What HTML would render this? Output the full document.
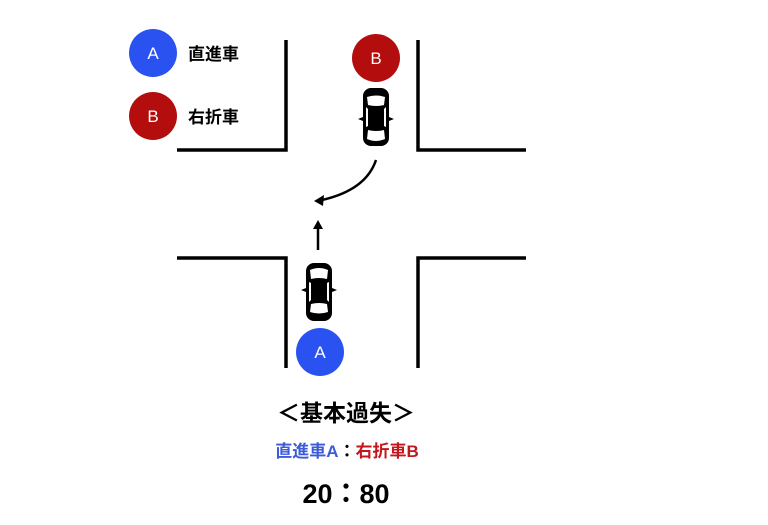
<!DOCTYPE html>
<html><head><meta charset="utf-8"><style>
body{margin:0;width:768px;height:525px;background:#fff;overflow:hidden;font-family:"Liberation Sans","Noto Sans CJK JP",sans-serif}
svg{position:absolute;left:0;top:0}
</style></head><body>
<svg width="768" height="525" viewBox="0 0 768 525">
<defs>
<g id="car">
<rect x="-13" y="-29" width="26" height="58" rx="8" fill="#000"/>
<path d="M-13 -4 L-18 -2 L-13 0 Z M13 -4 L18 -2 L13 0 Z" fill="#000"/>
<path d="M-9 -22 Q0 -26 9 -22 L8 -13 Q0 -15 -8 -13 Z" fill="#fff"/>
<path d="M-10 -10 L-8 -9 L-8 8 L-10 10 Z M10 -10 L8 -9 L8 8 L10 10 Z" fill="#fff"/>
<path d="M-8 12 Q0 10 8 12 L9 20 Q0 23 -9 20 Z" fill="#fff"/>
</g>
</defs>
<g stroke="#000" stroke-width="3.5" fill="none">
<path d="M286 40 V150 H177"/>
<path d="M418 40 V150 H526"/>
<path d="M177 258 H286 V368"/>
<path d="M526 258 H418 V368"/>
<path d="M376 160 Q366 190 322 200" stroke-width="2.5"/>
<path d="M318 250 V228" stroke-width="2.5"/>
</g>
<path d="M314 201 L324 195 L323 206 Z" fill="#000"/>
<path d="M318 220 L313 229 L323 229 Z" fill="#000"/>
<use href="#car" transform="translate(376,117) rotate(180)"/>
<use href="#car" transform="translate(319,292)"/>
<g font-family="Liberation Sans,sans-serif" font-size="17" fill="#fff" text-anchor="middle">
<circle cx="153" cy="53" r="24" fill="#2a52f0"/><text x="153" y="59">A</text>
<circle cx="153" cy="116" r="24" fill="#b30d0d"/><text x="153" y="122">B</text>
<circle cx="376" cy="58" r="24" fill="#b30d0d"/><text x="376" y="64">B</text>
<circle cx="320" cy="352" r="24" fill="#2a52f0"/><text x="320" y="358">A</text>
</g>
<g font-family="Liberation Sans,Noto Sans CJK JP,sans-serif" font-weight="bold" fill="#000">
<text x="188" y="60" font-size="17">直進車</text>
<text x="188" y="123" font-size="17">右折車</text>
<text x="346" y="421" font-size="23" text-anchor="middle">＜基本過失＞</text>
<text x="347" y="457" font-size="17" text-anchor="middle"><tspan fill="#3b5bd9">直進車A</tspan><tspan fill="#000">：</tspan><tspan fill="#c4161c">右折車B</tspan></text>
<text x="346" y="503" font-size="27" text-anchor="middle">20：80</text>
</g>
</svg>
</body></html>
